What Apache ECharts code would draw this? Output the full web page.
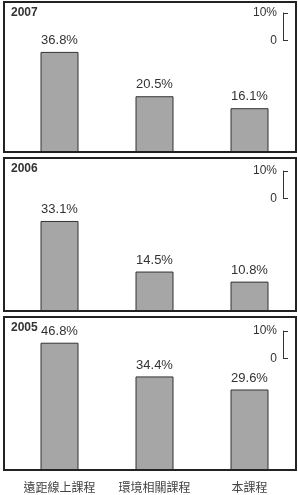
<!DOCTYPE html>
<html><head><meta charset="utf-8">
<script src="https://cdn.jsdelivr.net/npm/echarts@6/dist/echarts.min.js"></script>
<style>html,body{margin:0;padding:0;background:#fff}#c{width:298px;height:495px}</style>
</head><body><div id="c"></div>
<script>
const categories = ['遠距線上課程', '環境相關課程', '本課程'];
const years = ['2007', '2006', '2005'];
const values2007 = [36.8, 20.5, 16.1];
const values2006 = [33.1, 14.5, 10.8];
const values2005 = [46.8, 34.4, 29.6];
const scaleTicks = [0, 10];

const seriesData = [values2007, values2006, values2005];
const boxes = [[4, 2, 292, 150], [4, 158, 292, 153], [4, 317, 292, 153]];
const gridBottoms = [152, 311, 470];
const scaleTops = [13, 171, 331];
const PX = 2.72, MAX = 50;
const font = '"Liberation Sans", Arial, sans-serif';

const G = [], X = [], Y = [], series = [], graphics = [];
for (let i = 0; i < 3; i++) {
  const h = PX * MAX;
  G.push({left: 12, width: 285, top: gridBottoms[i] - h, height: h});
  X.push({type: 'category', gridIndex: i, data: categories,
    axisLine: {show: false}, axisTick: {show: false},
    axisLabel: {show: i === 2, interval: 0, fontFamily: '"Noto Sans CJK TC", sans-serif', fontSize: 12, color: '#444', margin: 11}});
  Y.push({type: 'value', gridIndex: i, min: 0, max: MAX, show: false});
  series.push({type: 'bar', xAxisIndex: i, yAxisIndex: i, data: seriesData[i], barWidth: 38,
    itemStyle: {color: '#a6a6a6', borderColor: '#333', borderWidth: 1},
    label: {show: true, position: 'top', distance: 5, formatter: p => p.value.toFixed(1) + '%',
      fontFamily: font, fontSize: 13, color: '#333'}});
  graphics.push({type: 'rect', shape: {x: boxes[i][0], y: boxes[i][1], width: boxes[i][2], height: boxes[i][3]},
    style: {fill: 'none', stroke: '#222', lineWidth: 2}, z: 10});
  graphics.push({type: 'text', left: 11, top: boxes[i][1] + 5,
    style: {text: years[i], font: 'bold 12px ' + font, fill: '#333'}, z: 11});
}
for (let i = 0; i < 3; i++) {
  G.push({left: 283, width: 6, top: scaleTops[i], height: PX * 10});
  X.push({type: 'value', gridIndex: i + 3, show: false, min: 0, max: 1});
  Y.push({type: 'value', gridIndex: i + 3, min: scaleTicks[0], max: scaleTicks[1], interval: 10,
    axisLine: {show: true, lineStyle: {color: '#333', width: 1}},
    axisTick: {show: true, inside: true, length: 5, lineStyle: {color: '#333'}},
    splitLine: {show: false},
    axisLabel: {fontFamily: font, fontSize: 12, color: '#333', margin: 6,
      formatter: v => v === 0 ? '0' : v + '%'}});
}

const chart = echarts.init(document.getElementById('c'), null, {renderer: 'canvas'});
chart.setOption({animation: false, grid: G, xAxis: X, yAxis: Y, series: series, graphic: graphics});
</script></body></html>
